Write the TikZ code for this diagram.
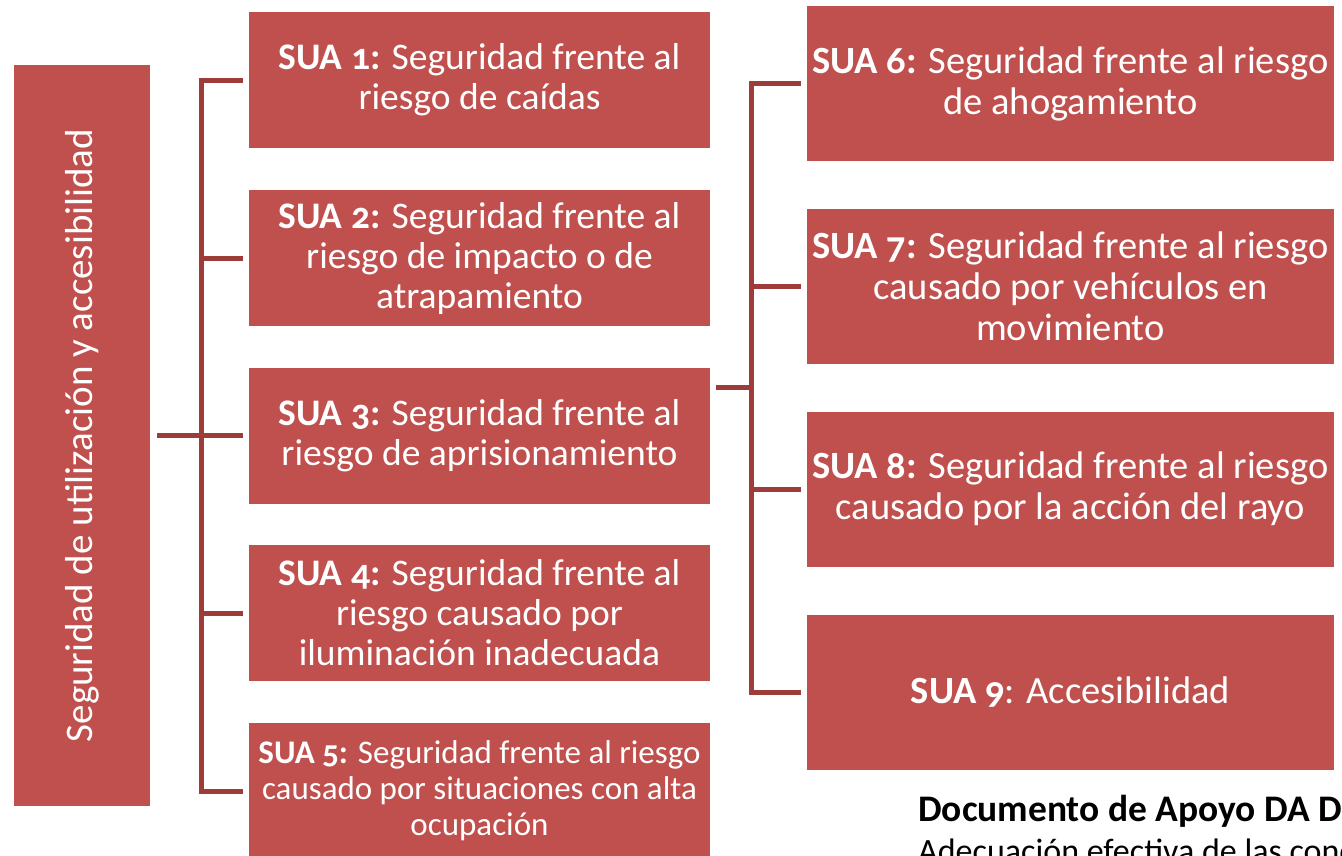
\documentclass[tikz,border=0pt]{standalone}
\usepackage{fontspec}
\setmainfont{Carlito}[Numbers=OldStyle]
\definecolor{boxred}{RGB}{192,80,77}
\definecolor{linered}{RGB}{158,60,58}
\begin{document}
\begin{tikzpicture}[x=1pt,y=-1pt,
  box/.style={fill=boxred, draw=none, text=white, align=center, inner sep=0pt},
  lbox/.style={box, minimum width=461pt, minimum height=136pt, font=\fontsize{37.5}{40}\selectfont},
  rbox/.style={box, minimum width=527pt, minimum height=155pt, font=\fontsize{38.5}{41}\selectfont},
  conn/.style={draw=linered, line width=5pt, line join=miter}]
\useasboundingbox (0,0) rectangle (1342,855);
\node[box, minimum width=741pt, minimum height=136pt, rotate=90, font=\fontsize{39}{40}\selectfont] (L) at (82,435.5) {Seguridad de utilización y accesibilidad};
\node[lbox] (b1) at (479.5,80) {\textbf{SUA 1:} Seguridad frente al\\riesgo de caídas};
\node[lbox] (b2) at (479.5,258) {\textbf{SUA 2:} Seguridad frente al\\riesgo de impacto o de\\atrapamiento};
\node[lbox] (b3) at (479.5,435.5) {\textbf{SUA 3:} Seguridad frente al\\riesgo de aprisionamiento};
\node[lbox] (b4) at (479.5,613) {\textbf{SUA 4:} Seguridad frente al\\riesgo causado por\\iluminación inadecuada};
\node[lbox, font=\fontsize{33}{36}\selectfont] (b5) at (479.5,791) {\textbf{SUA 5:} Seguridad frente al riesgo\\causado por situaciones con alta\\ocupación};
\node[rbox] (b6) at (1070.5,83.5) {\textbf{SUA 6:} Seguridad frente al riesgo\\de ahogamiento};
\node[rbox] (b7) at (1070.5,286.5) {\textbf{SUA 7:} Seguridad frente al riesgo\\causado por vehículos en\\movimiento};
\node[rbox] (b8) at (1070.5,489) {\textbf{SUA 8:} Seguridad frente al riesgo\\causado por la acción del rayo};
\node[rbox] (b9) at (1070.5,692) {\textbf{SUA 9}: Accesibilidad};
% left bracket
\draw[conn] ([xshift=-6pt]b1.west) -| ([xshift=-47pt]b5.west) -- ([xshift=-6pt]b5.west);
\draw[conn] ([xshift=-6pt]b2.west) -- ([xshift=-47pt]b2.west);
\draw[conn] ([xshift=-6pt]b4.west) -- ([xshift=-47pt]b4.west);
\draw[conn] ([xshift=7pt]L.south) -- ([xshift=-6pt]b3.west);
% right bracket
\coordinate (rj) at (752,387);
\draw[conn] ([xshift=-6pt]b6.west) -| ([xshift=-55pt]b9.west) -- ([xshift=-6pt]b9.west);
\draw[conn] ([xshift=-6pt]b7.west) -- ([xshift=-55pt]b7.west);
\draw[conn] ([xshift=-6pt]b8.west) -- ([xshift=-55pt]b8.west);
\draw[conn] ([xshift=6pt,yshift=48.5pt]b3.east) -- (rj);
% caption
\node[anchor=base west, inner sep=0pt, font=\fontsize{37.5}{40}\selectfont\bfseries] (doc) at (918,821) {Documento de Apoyo DA D};
\node[anchor=base west, inner sep=0pt, font=\fontsize{34}{38}\selectfont] (sub) at (918,862) {Adecuación efectiva de las cond};
\end{tikzpicture}
\end{document}
